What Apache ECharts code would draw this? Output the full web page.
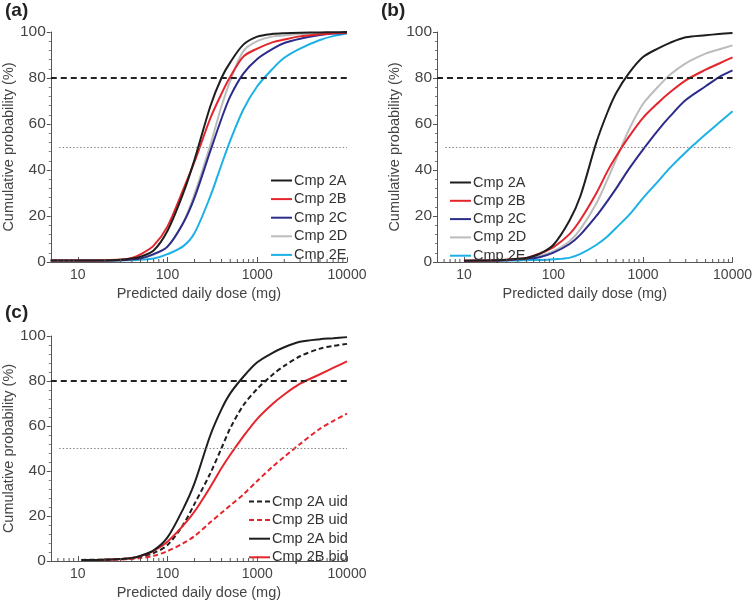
<!DOCTYPE html>
<html>
<head>
<meta charset="utf-8">
<script src="https://cdn.jsdelivr.net/npm/echarts@6/dist/echarts.min.js"></script>
<style>
  html, body { margin: 0; padding: 0; background: #fff; }
  #chart { width: 755px; height: 601px; }
</style>
</head>
<body>
<div id="chart"></div>
<script>
// doses (mg) used for reading the curves
const doseA = [5, 10, 20, 30, 40, 50, 70, 100, 150, 200, 300, 400, 500, 700, 1000, 1500, 2000, 3000, 5000, 7000, 10000]
const doseB = [10, 20, 30, 40, 50, 70, 100, 150, 200, 300, 400, 500, 700, 1000, 1500, 2000, 3000, 5000, 7000, 10000]
const doseC = [11, 20, 30, 40, 50, 70, 100, 150, 200, 300, 400, 500, 700, 1000, 1500, 2000, 3000, 5000, 7000, 10000]

// panel (a)
const a2A = [0.6, 0.6, 0.7, 1.0, 1.5, 2.3, 5.0, 13.6, 30, 44.5, 67.7, 80.1, 86.8, 94.5, 98, 99.2, 99.5, 99.7, 99.8, 99.9, 100]
const a2B = [0.6, 0.6, 0.8, 1.1, 1.8, 3.3, 7.1, 15.5, 31.6, 43.6, 62.5, 73.2, 80.5, 89.3, 92.8, 95.6, 96.7, 98.1, 99.0, 99.5, 99.7]
const a2C = [0.6, 0.6, 0.6, 0.8, 1.1, 1.5, 3.4, 6.7, 17.1, 28, 48.3, 62.4, 72, 81.9, 88.3, 92.8, 95.2, 97.1, 98.7, 99.3, 99.6]
const a2D = [0.6, 0.6, 0.6, 0.8, 1.1, 1.5, 3.2, 6.7, 17.1, 29.6, 50.9, 67.8, 78.8, 91.7, 96.0, 98.1, 98.5, 99.1, 99.5, 99.6, 99.7]
const a2E = [0.6, 0.6, 0.6, 0.7, 0.8, 1.0, 1.5, 3.4, 6.9, 12.6, 28.6, 42.4, 52.8, 66.3, 76.4, 84.2, 88.8, 92.8, 96.5, 98.2, 99.3]

// panel (b)
const b2A = [0.5, 0.7, 1.0, 1.4, 1.7, 3.5, 7.5, 17.8, 28.7, 51.8, 65, 73.4, 82.2, 89.1, 93, 95.3, 97.7, 98.6, 99.1, 99.6]
const b2B = [0.5, 0.7, 1.0, 1.4, 1.8, 3.7, 6.5, 12, 18.4, 29.8, 39.4, 45.9, 54.6, 62.7, 69.5, 73.8, 79.0, 83.6, 86.2, 89]
const b2C = [0.5, 0.6, 0.8, 1.1, 1.4, 2.1, 4.1, 7.7, 11.9, 19.9, 26.5, 31.9, 40.6, 48.9, 57.7, 63.3, 70.4, 76.4, 80.3, 83.3]
const b2D = [0.5, 0.6, 0.9, 1.2, 1.5, 2.6, 4.7, 8.9, 14.3, 25.3, 35.8, 44.5, 57.7, 68.7, 76.5, 81.4, 86.4, 90.6, 92.4, 94.2]
const b2E = [0.4, 0.5, 0.6, 0.7, 0.8, 0.9, 1.2, 1.8, 3.5, 7.4, 11.1, 14.8, 20.5, 27.8, 35.4, 40.9, 47.7, 55.5, 60.4, 65.5]

// panel (c)
const c2Auid = [0.5, 0.6, 0.9, 1.3, 2.0, 3.5, 7.1, 16.2, 25.4, 39, 50.2, 59, 69.2, 76.5, 83, 86.7, 91, 94.4, 95.6, 96.5]
const c2Buid = [0.4, 0.5, 0.7, 0.9, 1.3, 2.3, 4.4, 7.9, 11.1, 17.2, 21.4, 24.7, 29.6, 35.6, 42.1, 46.3, 52, 58.8, 62.2, 65.5]
const c2Abid = [0.5, 0.6, 0.9, 1.3, 2.3, 4.7, 10.5, 23.3, 34.6, 55.9, 67.5, 74.5, 81.9, 88.3, 92.6, 95.0, 97.4, 98.6, 99.0, 99.5]
const c2Bbid = [0.5, 0.6, 0.9, 1.3, 2.2, 4.5, 8.6, 15.8, 22, 32.9, 41.3, 47.2, 55.4, 63.2, 70, 74, 78.8, 83, 85.8, 88.7]

const doseTicks = [10, 100, 1000, 10000]
const minorDoses = [6, 7, 8, 9, 20, 30, 40, 50, 60, 70, 80, 90, 200, 300, 400, 500, 600, 700, 800, 900,
                    2000, 3000, 4000, 5000, 6000, 7000, 8000, 9000]
const refHigh = 80
const refMid = 50

const FONT = '"Liberation Sans", Arial, sans-serif'
const C_BLACK = '#1e1e1e'
const C_RED = '#e4252c'
const C_NAVY = '#2c2c8a'
const C_GREY = '#bcbcbc'
const C_CYAN = '#1cb1e6'

const grids = [
    { left: 49, top: 32, width: 298, height: 230 },
    { left: 437, top: 32, width: 298, height: 230 },
    { left: 49, top: 336, width: 298, height: 230 }
]

function xAxisOf(i){
    return {
        type: 'log', logBase: 10, gridIndex: i, min: 5, max: 10000,
        name: 'Predicted daily dose (mg)', nameLocation: 'middle', nameGap: 24,
        nameTextStyle: { fontFamily: FONT, fontSize: 14.5, color: '#444' },
        axisLine: { lineStyle: { color: '#555', width: 1 } },
        axisTick: { inside: true, length: 5, lineStyle: { color: '#555' } },
        axisLabel: {
            fontFamily: FONT, fontSize: 14, color: '#444', margin: 6,
            showMinLabel: false,
            formatter: v => doseTicks.includes(Math.round(v)) ? String(Math.round(v)) : ''
        },
        splitLine: { show: false }
    }
}
function yAxisOf(i){
    return {
        type: 'value', gridIndex: i, min: 0, max: 100, interval: 20,
        name: 'Cumulative probability (%)', nameLocation: 'middle', nameGap: 22,
        nameTextStyle: { fontFamily: FONT, fontSize: 14.5, color: '#444' },
        axisLine: { show: true, lineStyle: { color: '#555', width: 1 } },
        axisTick: { show: true, length: 4, lineStyle: { color: '#555' } },
        minorTick: { show: true, splitNumber: 5, length: 2, lineStyle: { color: '#777' } },
        axisLabel: { fontFamily: FONT, fontSize: 15.5, color: '#444', margin: 5 },
        splitLine: { show: false }
    }
}

function curve(name, xs, ys, color, i, dashed){
    return {
        name, type: 'line', xAxisIndex: i, yAxisIndex: i,
        data: xs.map((x, k) => [x, ys[k]]),
        symbol: 'none', showSymbol: false,
        smooth: 0.3,
        lineStyle: { color, width: 2, type: dashed ? [5, 3] : 'solid' },
        itemStyle: { color },
        z: 3, animation: false
    }
}

// 80% dashed and 50% dotted guide lines
function guides(i){
    return {
        type: 'line', xAxisIndex: i, yAxisIndex: i, data: [], silent: true, z: 2,
        markLine: {
            silent: true, symbol: 'none', label: { show: false }, animation: false,
            data: [
                { yAxis: refHigh, lineStyle: { color: '#222', width: 2, type: [6, 4] } },
                [
                    { coord: [6.2, refMid], lineStyle: { color: '#888', width: 1, type: [1.5, 2] } },
                    { coord: [10000, refMid] }
                ]
            ]
        }
    }
}

function minorX(i){
    return {
        type: 'custom', xAxisIndex: i, yAxisIndex: i, silent: true, z: 4,
        data: minorDoses.map(d => [d, 0]),
        renderItem: (params, api) => {
            const p = api.coord([api.value(0), 0])
            return {
                type: 'line',
                shape: { x1: p[0], y1: p[1], x2: p[0], y2: p[1] - 3 },
                style: { stroke: '#555', lineWidth: 1 }
            }
        }
    }
}

function legendOf(left, top, gap, names){
    return {
        left, top, orient: 'vertical', itemWidth: 21, itemHeight: 14, itemGap: gap,
        data: names, selectedMode: false,
        itemStyle: { opacity: 0 },
        textStyle: { fontFamily: FONT, fontSize: 14.5, color: '#333', padding: [0, 0, 0, -3] }
    }
}

const chart = echarts.init(document.getElementById('chart'), null, { renderer: 'canvas' })
chart.setOption({
    backgroundColor: '#fff',
    animation: false,
    title: ['(a)', '(b)', '(c)'].map((t, i) => ({
        text: t, left: i === 1 ? 376 : 0, top: i === 2 ? 298 : -4,
        textStyle: { fontFamily: FONT, fontSize: 19, fontWeight: 'bold', color: '#222' }
    })),
    grid: grids,
    xAxis: [xAxisOf(0), xAxisOf(1), xAxisOf(2)],
    yAxis: [yAxisOf(0), yAxisOf(1), yAxisOf(2)],
    legend: [
        legendOf(265, 168, 3.6, ['Cmp 2A', 'Cmp 2B', 'Cmp 2C', 'Cmp 2D', 'Cmp 2E']),
        legendOf(444, 170, 3.3, ['Cmp 2A ', 'Cmp 2B ', 'Cmp 2C ', 'Cmp 2D ', 'Cmp 2E ']),
        legendOf(243, 489, 3.6, ['Cmp 2A uid', 'Cmp 2B uid', 'Cmp 2A bid', 'Cmp 2B bid'])
    ],
    series: [
        guides(0), guides(1), guides(2),
        minorX(0), minorX(1), minorX(2),
        curve('Cmp 2E', doseA, a2E, C_CYAN, 0),
        curve('Cmp 2D', doseA, a2D, C_GREY, 0),
        curve('Cmp 2C', doseA, a2C, C_NAVY, 0),
        curve('Cmp 2B', doseA, a2B, C_RED, 0),
        curve('Cmp 2A', doseA, a2A, C_BLACK, 0),
        curve('Cmp 2E ', doseB, b2E, C_CYAN, 1),
        curve('Cmp 2D ', doseB, b2D, C_GREY, 1),
        curve('Cmp 2C ', doseB, b2C, C_NAVY, 1),
        curve('Cmp 2B ', doseB, b2B, C_RED, 1),
        curve('Cmp 2A ', doseB, b2A, C_BLACK, 1),
        curve('Cmp 2B uid', doseC, c2Buid, C_RED, 2, true),
        curve('Cmp 2A uid', doseC, c2Auid, C_BLACK, 2, true),
        curve('Cmp 2B bid', doseC, c2Bbid, C_RED, 2),
        curve('Cmp 2A bid', doseC, c2Abid, C_BLACK, 2)
    ]
})
</script>
</body>
</html>
